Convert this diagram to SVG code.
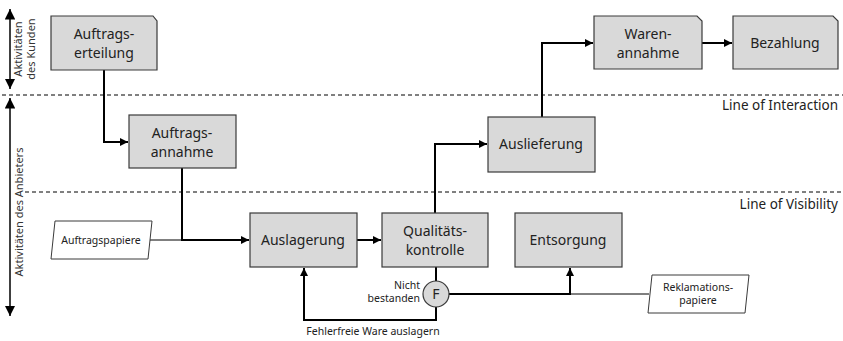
<svg xmlns="http://www.w3.org/2000/svg" width="843" height="341" viewBox="0 0 843 341">
<style>
.box{fill:#d9d9d9;stroke:#3a3a3a;stroke-width:1.2}
.paper{fill:#fff;stroke:#3a3a3a;stroke-width:1}
.t{font-family:"Noto Sans","Open Sans",sans-serif;font-size:14px;fill:#222;text-anchor:middle}
.s{font-family:"Noto Sans","Open Sans",sans-serif;font-size:10.5px;fill:#222;text-anchor:middle}
.lane{font-family:"Noto Sans","Open Sans",sans-serif;font-size:11px;fill:#333;text-anchor:middle}
.line{font-family:"Noto Sans","Open Sans",sans-serif;font-size:13.5px;fill:#222;text-anchor:end}
.c{fill:none;stroke:#000;stroke-width:2}
.thin{fill:none;stroke:#000;stroke-width:1}
.dash{stroke:#000;stroke-width:1;stroke-dasharray:4 3}
</style>
<defs>
<marker id="ah" viewBox="0 0 10 10" refX="10" refY="5" markerWidth="4" markerHeight="4" orient="auto-start-reverse" markerUnits="strokeWidth"><path d="M0,0 L10,5 L0,10 z" fill="#000"/></marker>
<marker id="ah2" viewBox="0 0 10 10" refX="10" refY="5" markerWidth="7" markerHeight="7" orient="auto-start-reverse" markerUnits="strokeWidth"><path d="M0,0 L10,5 L0,10 z" fill="#000"/></marker>
</defs>
<g id="lanes">
<line class="dash" x1="2" y1="95" x2="843" y2="95"/>
<line class="dash" x1="25" y1="192" x2="843" y2="192"/>
<line x1="10" y1="9" x2="10" y2="89" stroke="#000" stroke-width="1.5" marker-start="url(#ah2)" marker-end="url(#ah2)"/>
<line x1="10" y1="98" x2="10" y2="316" stroke="#000" stroke-width="1.5" marker-start="url(#ah2)" marker-end="url(#ah2)"/>
<text class="lane" transform="translate(22,49) rotate(-90)">Aktivitäten</text>
<text class="lane" transform="translate(35,49) rotate(-90)">des Kunden</text>
<text class="lane" transform="translate(23,212) rotate(-90)">Aktivitäten des Anbieters</text>
<text class="line" x="838" y="110">Line of Interaction</text>
<text class="line" x="838" y="209">Line of Visibility</text>
</g>
<g id="connectors">
<polyline class="c" points="104,70 104,142 128,142" marker-end="url(#ah)"/>
<polyline class="c" points="182,168 182,240 249,240" marker-end="url(#ah)"/>
<line class="thin" x1="150" y1="240" x2="182" y2="240"/>
<line class="c" x1="357" y1="240" x2="381" y2="240" marker-end="url(#ah)"/>
<polyline class="c" points="435,213 435,144 487,144" marker-end="url(#ah)"/>
<polyline class="c" points="542,117 542,43 593,43" marker-end="url(#ah)"/>
<line class="c" x1="702" y1="43" x2="732" y2="43" marker-end="url(#ah)"/>
<line class="c" x1="436" y1="267" x2="436" y2="281"/>
<polyline class="c" points="436,307 436,320 304,320 304,268" marker-end="url(#ah)"/>
<polyline class="c" points="449,294 570,294 570,268" marker-end="url(#ah)"/>
<line class="thin" x1="570" y1="294" x2="649" y2="294"/>
</g>
<g id="auftragserteilung">
<path class="box" d="M51,16 H153 L157,21 V70 H51 Z"/>
<text class="t" x="104" y="39">Auftrags-</text>
<text class="t" x="104" y="58">erteilung</text>
</g>
<g id="auftragsannahme">
<rect class="box" x="129" y="115" width="107" height="53"/>
<text class="t" x="182" y="138">Auftrags-</text>
<text class="t" x="182" y="157">annahme</text>
</g>
<g id="auftragspapiere">
<path class="paper" d="M55,221 H152 L148,259 H51 Z"/>
<text class="s" x="101" y="244">Auftragspapiere</text>
</g>
<g id="auslagerung">
<rect class="box" x="250" y="213" width="107" height="54"/>
<text class="t" x="303" y="245">Auslagerung</text>
</g>
<g id="qualitaetskontrolle">
<rect class="box" x="382" y="213" width="106" height="54"/>
<text class="t" x="435" y="236">Qualitäts-</text>
<text class="t" x="435" y="255">kontrolle</text>
</g>
<g id="entsorgung">
<rect class="box" x="515" y="213" width="107" height="54"/>
<text class="t" x="568" y="245">Entsorgung</text>
</g>
<g id="auslieferung">
<rect class="box" x="488" y="117" width="107" height="55"/>
<text class="t" x="541" y="149">Auslieferung</text>
</g>
<g id="warenannahme">
<path class="box" d="M594,16 H697 L702,21 V69 H594 Z"/>
<text class="t" x="648" y="39">Waren-</text>
<text class="t" x="648" y="58">annahme</text>
</g>
<g id="bezahlung">
<path class="box" d="M733,16 H833 L838,21 V69 H733 Z"/>
<text class="t" x="785" y="48">Bezahlung</text>
</g>
<g id="f">
<circle class="box" cx="436" cy="294" r="13"/>
<text class="t" x="436" y="299">F</text>
<text class="s" x="420" y="289" style="text-anchor:end">Nicht</text>
<text class="s" x="420" y="302" style="text-anchor:end">bestanden</text>
<text class="s" x="373" y="335">Fehlerfreie Ware auslagern</text>
</g>
<g id="reklamationspapiere">
<path class="paper" d="M652,275 H749 L745,313 H648 Z"/>
<text class="s" x="698" y="291">Reklamations-</text>
<text class="s" x="698" y="304">papiere</text>
</g>
</svg>
